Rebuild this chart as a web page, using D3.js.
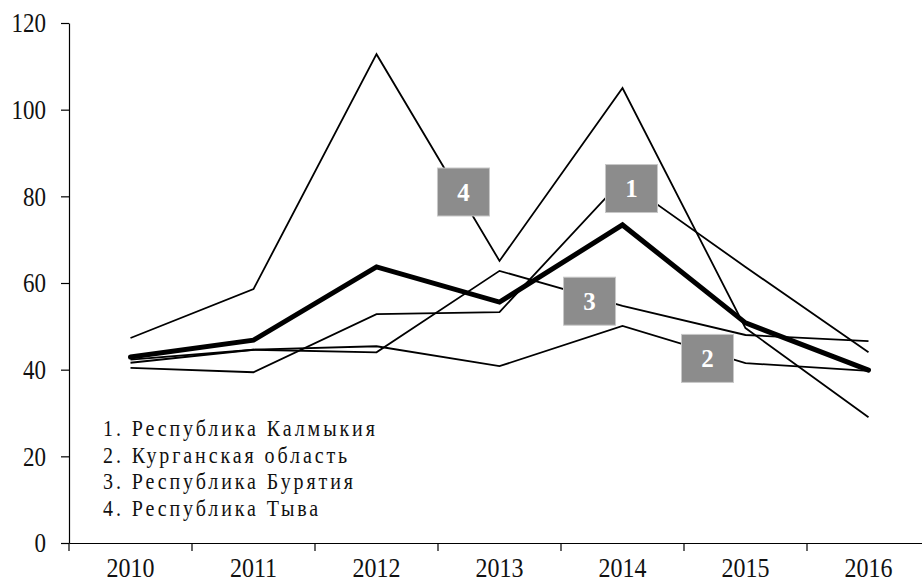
<!DOCTYPE html>
<html>
<head>
<meta charset="utf-8">
<script src="https://cdn.jsdelivr.net/npm/d3@7"></script>
<style>
  body { margin: 0; background: #fff; }
  svg { display: block; }
  text { font-family: "Liberation Serif", "Times New Roman", serif; fill: #111; }
</style>
</head>
<body>
<div id="chart"></div>
<script>
// data
const years = [2010, 2011, 2012, 2013, 2014, 2015, 2016];
const kalmykia = [40.4, 39.4, 52.8, 53.3, 83.8, 63.7, 44.0];
const kurgan   = [42.3, 44.6, 45.4, 40.8, 50.1, 41.5, 39.7];
const buryatia = [41.6, 44.6, 44.0, 62.8, 54.7, 48.0, 46.6];
const tyva     = [47.3, 58.6, 112.8, 65.1, 105.0, 49.6, 29.0];
const average  = [42.9, 46.8, 63.7, 55.6, 73.4, 50.8, 39.9];
const yTicks = [0, 20, 40, 60, 80, 100, 120];
const legendItems = ["1. Республика Калмыкия", "2. Курганская область", "3. Республика Бурятия", "4. Республика Тыва"];

const W = 922, H = 584;
const serif = '"Liberation Serif", "Times New Roman", serif';
const svg = d3.select("#chart").append("svg")
    .attr("width", W)
    .attr("height", H);

// band per year, ticks sit on band edges
const x = d3.scaleBand()
    .domain(years)
    .range([69, 930])
    .paddingInner(0);

const y = d3.scaleLinear()
    .domain([0, 120])
    .range([543, 23]);

const xMid = yr => x(yr) + x.bandwidth() / 2;
// fractional year -> pixel, for the number boxes
const xAt = t => x(years[0]) + x.bandwidth() / 2 + (t - years[0]) * x.bandwidth();

// Axes
const yAxis = svg.append("g")
    .attr("transform", "translate(69,0)")
    .call(d3.axisLeft(y).tickValues(yTicks).tickSize(8).tickSizeOuter(0).tickPadding(15));
yAxis.selectAll("text")
    .style("font-family", serif)
    .style("font-size", "23px")
    .attr("transform", "scale(1,1.22)");

const xAxis = svg.append("g")
    .attr("transform", "translate(0,543)")
    .call(d3.axisBottom(x).tickSize(0).tickSizeOuter(0));
xAxis.selectAll("text")
    .style("font-family", serif)
    .style("font-size", "24px")
    .attr("y", 30.9)
    .attr("dy", 0)
    .attr("transform", "scale(1,1.1)");

// tick marks on band boundaries
svg.append("g")
    .selectAll("line")
    .data(years)
    .enter()
    .append("line")
    .attr("x1", d => x(d))
    .attr("x2", d => x(d))
    .attr("y1", 543)
    .attr("y2", 551)
    .attr("stroke", "#000")
    .attr("stroke-width", 1.2);

svg.selectAll(".domain").attr("stroke", "#000").attr("stroke-width", 1.2);
svg.selectAll(".tick line").attr("stroke", "#000").attr("stroke-width", 1.2);

// Lines
const line = d3.line()
    .x((d, i) => xMid(years[i]))
    .y(d => y(d));

const series = [kalmykia, kurgan, buryatia, tyva];
svg.selectAll("path.region")
    .data(series)
    .enter()
    .append("path")
    .attr("class", "region")
    .attr("d", d => line(d))
    .attr("fill", "none")
    .attr("stroke", "#000")
    .attr("stroke-width", 1.8)
    .attr("stroke-linejoin", "miter");

svg.append("path")
    .attr("d", line(average))
    .attr("fill", "none")
    .attr("stroke", "#000")
    .attr("stroke-width", 5)
    .attr("stroke-linejoin", "miter")
    .attr("stroke-linecap", "round");

// Number boxes
const boxes = [
    { n: "4", t: 2012.707, v: 81.0 },
    { n: "1", t: 2014.073, v: 81.8 },
    { n: "3", t: 2013.732, v: 55.8 },
    { n: "2", t: 2014.691, v: 42.6 }
];
const bw = 52, bh = 48;
const box = svg.selectAll("g.box")
    .data(boxes)
    .enter()
    .append("g")
    .attr("class", "box")
    .attr("transform", d => `translate(${xAt(d.t)},${y(d.v)})`);

box.append("rect")
    .attr("x", -bw / 2)
    .attr("y", -bh / 2)
    .attr("width", bw)
    .attr("height", bh)
    .attr("fill", "#8c8c8c")
    .attr("stroke", "#c8c8c8")
    .attr("stroke-width", 1);

box.append("text")
    .attr("text-anchor", "middle")
    .attr("dy", "0.34em")
    .style("font-size", "25px")
    .style("font-weight", "bold")
    .style("fill", "#fff")
    .text(d => d.n);

// Legend
svg.selectAll("text.legend")
    .data(legendItems)
    .enter()
    .append("text")
    .attr("class", "legend")
    .attr("transform", (d, i) => `translate(103,${436 + i * 26.5}) scale(1,1.15)`)
    .style("font-size", "20px")
    .style("letter-spacing", "2.9px")
    .text(d => d);
</script>
</body>
</html>
